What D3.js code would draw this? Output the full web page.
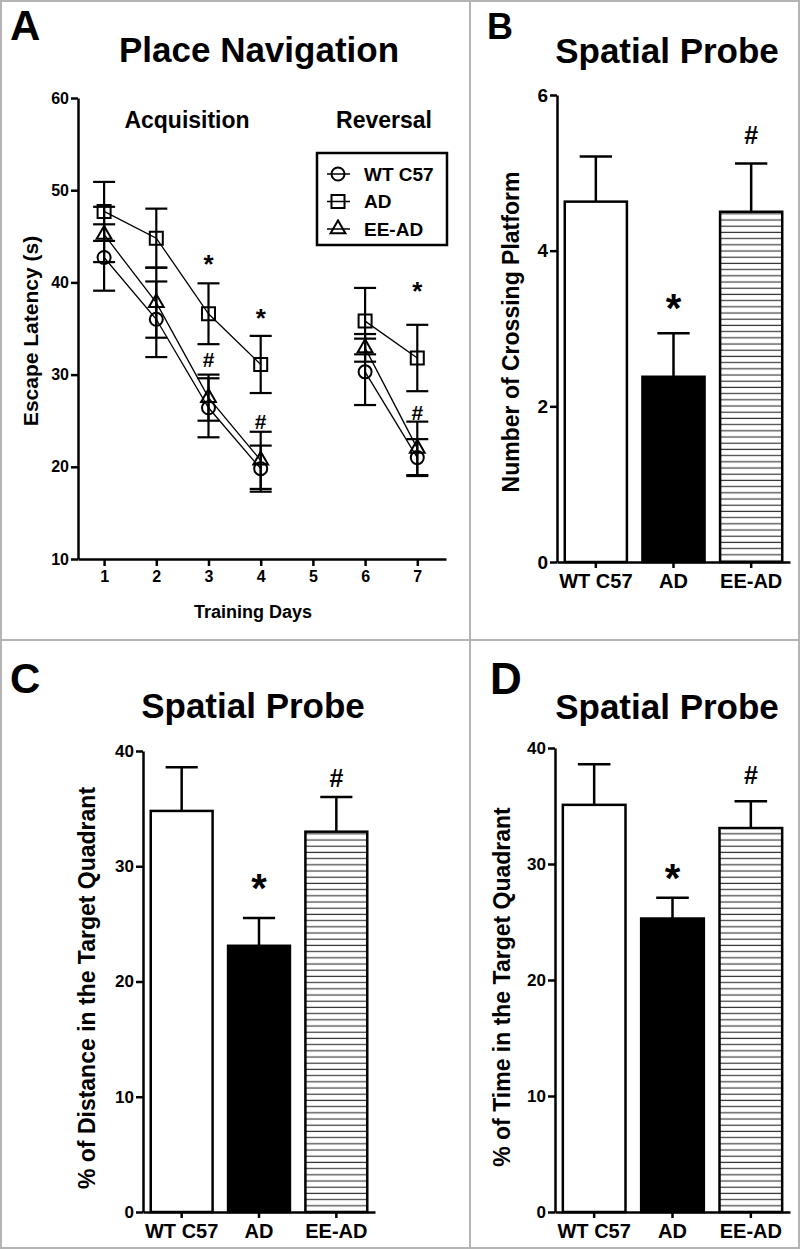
<!DOCTYPE html>
<html>
<head>
<meta charset="utf-8">
<script src="https://cdn.jsdelivr.net/npm/d3@7"></script>
<style>
  body { margin: 0; background: #fff; }
  svg { display: block; }
  text { font-family: "Liberation Sans", Arial, Helvetica, sans-serif; font-weight: bold; fill: #000; }
</style>
</head>
<body>
<div id="chart"></div>
<script>
// ---- panel A: escape latency (s), mean and SEM per training day
const days = [1, 2, 3, 4, 6, 7];
const dayTicks = [1, 2, 3, 4, 5, 6, 7];
const latencyTicks = [10, 20, 30, 40, 50, 60];
const wtLatency = [42.7, 36.0, 26.4, 19.8, 30.3, 21.0];
const wtLatencySem = [3.6, 4.1, 3.2, 2.5, 3.6, 2.0];
const adLatency = [47.7, 44.8, 36.6, 31.1, 35.8, 31.8];
const adLatencySem = [3.2, 3.2, 3.3, 3.1, 3.6, 3.6];
const eeLatency = [45.2, 37.8, 27.5, 20.7, 32.9, 22.0];
const eeLatencySem = [3.0, 3.8, 2.5, 3.1, 1.5, 2.9];
// significance marks (day, value where the glyph sits)
const starDays = [3, 4, 7];
const starAt = [42.6, 36.7, 39.7];
const hashDays = [3, 4, 7];
const hashAt = [31.6, 24.9, 25.9];

// ---- panels B, C, D: spatial probe
const groups = ["WT C57", "AD", "EE-AD"];
const crossings = [4.63, 2.38, 4.50];
const crossingsSem = [0.58, 0.56, 0.62];
const crossingTicks = [0, 2, 4, 6];
const probeMarks = ["", "*", "#"];
const crossingMarkAt = [null, 3.37, 5.49];

const distancePct = [34.8, 23.1, 33.0];
const distanceSem = [3.8, 2.4, 3.0];
const timePct = [35.1, 25.3, 33.1];
const timeSem = [3.5, 1.8, 2.3];
const pctTicks = [0, 10, 20, 30, 40];
const distanceMarkAt = [null, 28.8, 37.7];
const timeMarkAt = [null, 29.5, 37.7];

const width = 800, height = 1249;
const svg = d3.select("#chart").append("svg")
    .attr("width", width)
    .attr("height", height);

const defs = svg.append("defs");
const hatch = defs.append("pattern")
    .attr("id", "hatch")
    .attr("patternUnits", "userSpaceOnUse")
    .attr("width", 8)
    .attr("height", 6.2);
hatch.append("rect").attr("width", 8).attr("height", 6.2).attr("fill", "#fff");
hatch.append("line")
    .attr("x1", 0).attr("x2", 8).attr("y1", 3).attr("y2", 3)
    .attr("stroke", "#3a3a3a").attr("stroke-width", 1.2);

// panel frame
const frame = svg.append("g").attr("stroke", "#b4b4b4").attr("stroke-width", 2).attr("fill", "none");
frame.append("rect").attr("x", 1).attr("y", 1).attr("width", width - 2).attr("height", height - 2);
frame.append("line").attr("x1", 470).attr("x2", 470).attr("y1", 0).attr("y2", height);
frame.append("line").attr("x1", 0).attr("x2", width).attr("y1", 640).attr("y2", 640);

function styleAxis(g, fontSize) {
    g.attr("font-family", null).attr("font-size", null);
    g.selectAll("path, line").attr("stroke", "#000").attr("stroke-width", 2.5);
    g.selectAll("text").attr("font-size", fontSize).attr("fill", "#000");
}

function panelText(txt, x, y, size, anchor = "middle") {
    return svg.append("text")
        .attr("x", x).attr("y", y)
        .attr("font-size", size)
        .attr("text-anchor", anchor)
        .text(txt);
}

function yLabel(txt, x, y, size) {
    svg.append("text")
        .attr("transform", `translate(${x},${y}) rotate(-90)`)
        .attr("text-anchor", "middle")
        .attr("font-size", size)
        .text(txt);
}

// glyph centre -> baseline offsets
const starShift = s => s * 0.56;
const hashShift = s => s * 0.36;

// ================= Panel A =================
panelText("A", 10, 40, 42, "start");
panelText("Place Navigation", 259, 62, 35);

const xA = d3.scaleLinear().domain([0.5, 7.55]).range([78, 446]);
const yA = d3.scaleLinear().domain([10, 60]).range([559, 98]);

const gA = svg.append("g");
gA.append("g")
    .attr("transform", `translate(0,${yA(10)})`)
    .call(d3.axisBottom(xA).tickValues(dayTicks).tickFormat(d3.format("d")).tickSize(7).tickSizeOuter(0).tickPadding(5))
    .call(g => styleAxis(g, 16));
gA.append("g")
    .attr("transform", `translate(${xA(0.5)},0)`)
    .call(d3.axisLeft(yA).tickValues(latencyTicks).tickSize(7).tickSizeOuter(0).tickPadding(2))
    .call(g => styleAxis(g, 16));

panelText("Training Days", 253, 618, 18);
yLabel("Escape Latency (s)", 38, 331, 21);
panelText("Acquisition", 187, 128, 23);
panelText("Reversal", 384, 128, 23);

const series = [
    {name: "WT C57", mean: wtLatency, sem: wtLatencySem, type: d3.symbolCircle, size: 133},
    {name: "AD", mean: adLatency, sem: adLatencySem, type: d3.symbolSquare, size: 169},
    {name: "EE-AD", mean: eeLatency, sem: eeLatencySem, type: d3.symbolTriangle, size: 95}
];

const lineA = d3.line().x(d => xA(d.day)).y(d => yA(d.v));
const capW = 11;

series.forEach(s => {
    const pts = days.map((day, i) => ({day, v: s.mean[i], e: s.sem[i]}));
    const g = gA.append("g");
    // error bars
    const eb = g.append("g").attr("stroke", "#000").attr("stroke-width", 2.2);
    pts.forEach(p => {
        const cx = xA(p.day);
        eb.append("line").attr("x1", cx).attr("x2", cx).attr("y1", yA(p.v - p.e)).attr("y2", yA(p.v + p.e));
        eb.append("line").attr("x1", cx - capW).attr("x2", cx + capW).attr("y1", yA(p.v + p.e)).attr("y2", yA(p.v + p.e));
        eb.append("line").attr("x1", cx - capW).attr("x2", cx + capW).attr("y1", yA(p.v - p.e)).attr("y2", yA(p.v - p.e));
    });
    // acquisition and reversal are drawn as separate runs
    d3.groups(pts, p => p.day < 5).forEach(([, seg]) => {
        g.append("path")
            .attr("d", lineA(seg))
            .attr("fill", "none")
            .attr("stroke", "#000")
            .attr("stroke-width", 1.3);
    });
    g.selectAll(".mk")
        .data(pts)
        .join("path")
        .attr("transform", p => `translate(${xA(p.day)},${yA(p.v)})`)
        .attr("d", d3.symbol().type(s.type).size(s.size))
        .attr("fill", "none")
        .attr("stroke", "#000")
        .attr("stroke-width", 2);
});

starDays.forEach((d, i) => {
    panelText("*", xA(d), yA(starAt[i]) + starShift(26), 26);
});
hashDays.forEach((d, i) => {
    panelText("#", xA(d), yA(hashAt[i]) + hashShift(21), 21);
});

// legend
const legend = svg.append("g");
legend.append("rect")
    .attr("x", 317).attr("y", 153).attr("width", 130).attr("height", 92)
    .attr("fill", "#fff").attr("stroke", "#000").attr("stroke-width", 2.5);
series.forEach((s, i) => {
    const ly = 174 + i * 27.5;
    legend.append("line").attr("x1", 327).attr("x2", 350).attr("y1", ly).attr("y2", ly)
        .attr("stroke", "#000").attr("stroke-width", 1.5);
    legend.append("path")
        .attr("transform", `translate(338,${ly})`)
        .attr("d", d3.symbol().type(s.type).size(s.size))
        .attr("fill", "none").attr("stroke", "#000").attr("stroke-width", 2);
    legend.append("text").attr("x", 364).attr("y", ly + 6.5).attr("font-size", 19).text(s.name);
});

// ================= Bar panels =================
const fills = ["#fff", "#000", "url(#hatch)"];

function barPanel(opt) {
    panelText(opt.letter, opt.letterX, opt.letterY, opt.letterSize, "start");
    panelText("Spatial Probe", opt.titleX, opt.titleY, 35);

    const x = d3.scaleBand().domain(groups).range([opt.left, opt.right]).paddingInner(0.2).paddingOuter(0.1);
    const y = d3.scaleLinear().domain([0, opt.max]).range([opt.bottom, opt.top]);
    const g = svg.append("g");

    g.selectAll(".bar")
        .data(groups)
        .join("rect")
        .attr("x", d => x(d))
        .attr("width", x.bandwidth())
        .attr("y", (d, i) => y(opt.values[i]))
        .attr("height", (d, i) => y(0) - y(opt.values[i]))
        .attr("fill", (d, i) => fills[i])
        .attr("stroke", "#000")
        .attr("stroke-width", 2.5);

    const cap = x.bandwidth() * 0.26;
    groups.forEach((d, i) => {
        const cx = x(d) + x.bandwidth() / 2;
        const top = y(opt.values[i] + opt.sems[i]);
        g.append("line").attr("x1", cx).attr("x2", cx).attr("y1", y(opt.values[i])).attr("y2", top)
            .attr("stroke", "#000").attr("stroke-width", 2.5);
        g.append("line").attr("x1", cx - cap).attr("x2", cx + cap).attr("y1", top).attr("y2", top)
            .attr("stroke", "#000").attr("stroke-width", 2.5);
        const m = probeMarks[i];
        if (m) {
            const at = opt.markAt[i];
            const size = m === "*" ? 40 : 25;
            const shift = m === "*" ? starShift(size) : hashShift(size);
            panelText(m, cx, y(at) + shift, size);
        }
    });

    g.append("g")
        .attr("transform", `translate(0,${opt.bottom})`)
        .call(d3.axisBottom(x).tickSize(6).tickSizeOuter(0).tickPadding(6))
        .call(a => styleAxis(a, 20));
    g.append("g")
        .attr("transform", `translate(${opt.left},0)`)
        .call(d3.axisLeft(y).tickValues(opt.ticks).tickFormat(d3.format("d")).tickSize(7).tickSizeOuter(0).tickPadding(2))
        .call(a => styleAxis(a, opt.tickFont));

    yLabel(opt.label, opt.labelX, opt.labelY, 23);
}

barPanel({
    letter: "B", letterX: 487, letterY: 39, letterSize: 36,
    titleX: 667, titleY: 63,
    left: 557, right: 790, top: 95, bottom: 562, max: 6,
    ticks: crossingTicks, tickFont: 19,
    values: crossings, sems: crossingsSem, markAt: crossingMarkAt,
    label: "Number of Crossing Platform", labelX: 519, labelY: 332
});

barPanel({
    letter: "C", letterX: 10, letterY: 693, letterSize: 42,
    titleX: 253, titleY: 718,
    left: 143, right: 375, top: 751, bottom: 1212, max: 40,
    ticks: pctTicks, tickFont: 17,
    values: distancePct, sems: distanceSem, markAt: distanceMarkAt,
    label: "% of Distance in the Target Quadrant", labelX: 95, labelY: 988
});

barPanel({
    letter: "D", letterX: 490, letterY: 694, letterSize: 44,
    titleX: 667, titleY: 719,
    left: 555, right: 790, top: 748, bottom: 1212, max: 40,
    ticks: pctTicks, tickFont: 17,
    values: timePct, sems: timeSem, markAt: timeMarkAt,
    label: "% of Time in the Target Quadrant", labelX: 510, labelY: 987
});
</script>
</body>
</html>
